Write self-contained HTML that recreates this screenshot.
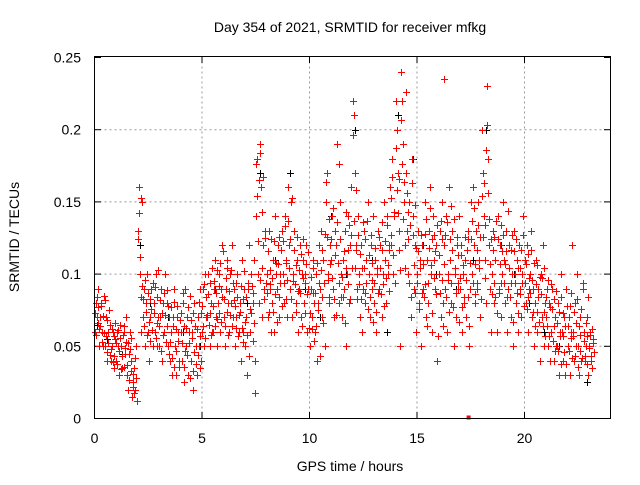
<!DOCTYPE html>
<html><head><meta charset="utf-8"><style>
body{margin:0;background:#fff;}
svg text{font-family:"Liberation Sans",sans-serif;font-size:14px;fill:#000;}
</style></head><body>
<svg id="chart" width="640" height="480" xmlns="http://www.w3.org/2000/svg">
<rect width="640" height="480" fill="#fff"/>
<text x="350" y="32" text-anchor="middle">Day 354 of 2021, SRMTID for receiver mfkg</text>
<text x="350" y="471" text-anchor="middle">GPS time / hours</text>
<text transform="translate(19,237) rotate(-90)" text-anchor="middle">SRMTID / TECUs</text>
<g id="grid"></g><g id="ticks"></g><g id="marks"></g>
<rect x="94.5" y="56.5" width="516" height="362" fill="none" stroke="#000" stroke-width="1"/>
</svg>
<script>
const xTicks=[0,5,10,15,20];
const yTicks=[0,0.05,0.1,0.15,0.2,0.25];
const yTickLabels=["0","0.05","0.1","0.15","0.2","0.25"];
const binTimes=[0,0.25,0.5,0.75,1,1.25,1.5,1.75,2,2.25,2.5,2.75,3,3.25,3.5,3.75,4,4.25,4.5,4.75,5,5.25,5.5,5.75,6,6.25,6.5,6.75,7,7.25,7.5,7.75,8,8.25,8.5,8.75,9,9.25,9.5,9.75,10,10.25,10.5,10.75,11,11.25,11.5,11.75,12,12.25,12.5,12.75,13,13.25,13.5,13.75,14,14.25,14.5,14.75,15,15.25,15.5,15.75,16,16.25,16.5,16.75,17,17.25,17.5,17.75,18,18.25,18.5,18.75,19,19.25,19.5,19.75,20,20.25,20.5,20.75,21,21.25,21.5,21.75,22,22.25,22.5,22.75,23];
const redValues=[
[.06,.08,.07,.09,.05],[.07,.08,.06,.05,.085],[.05,.07,.04,.06,.065],[.04,.05,.06,.035,.055],[.04,.06,.05,.03,.065],
[.05,.035,.06,.045,.07],[.03,.02,.045,.06,.04],[.015,.025,.035,.02,.05],[.13,.16,.1,.06,.15],[.07,.09,.05,.08,.1],
[.06,.04,.07,.09,.05],[.08,.06,.1,.05,.07],[.05,.07,.09,.04,.08],[.06,.1,.08,.05,.07],[.04,.06,.03,.07,.09],
[.05,.03,.07,.06,.04],[.06,.04,.08,.025,.09],[.05,.07,.03,.06,.085],[.04,.06,.02,.08,.05],[.03,.07,.05,.09,.04],
[.06,.09,.05,.1,.07],[.07,.1,.05,.08,.06],[.06,.09,.11,.07,.05],[.08,.1,.06,.09,.12],[.07,.05,.09,.11,.08],
[.06,.1,.08,.12,.07],[.09,.05,.07,.1,.06],[.08,.04,.11,.06,.09],[.05,.07,.03,.09,.12],[.06,.1,.08,.11,.04],
[.14,.18,.1,.08,.19],[.16,.07,.12,.09,.13],[.1,.07,.13,.09,.06],[.08,.11,.06,.14,.1],[.09,.12,.07,.1,.13],
[.1,.08,.14,.11,.07],[.16,.12,.09,.15,.07],[.1,.13,.08,.11,.06],[.09,.12,.07,.1,.11],[.08,.1,.12,.06,.09],
[.05,.09,.07,.11,.08],[.06,.1,.04,.08,.12],[.09,.13,.07,.11,.05],[.15,.17,.1,.08,.12],[.11,.14,.09,.07,.13],
[.12,.19,.08,.15,.1],[.07,.11,.09,.13,.05],[.1,.14,.08,.12,.16],[.22,.21,.17,.12,.09],[.14,.1,.07,.12,.06],
[.09,.13,.08,.11,.15],[.1,.07,.12,.09,.14],[.08,.11,.06,.1,.13],[.09,.12,.07,.1,.15],[.11,.08,.14,.1,.12],
[.16,.12,.18,.1,.14],[.22,.2,.17,.13,.05],[.24,.22,.19,.15,.12],[.17,.13,.1,.15,.07],[.18,.14,.09,.12,.06],
[.1,.13,.08,.11,.05],[.12,.09,.15,.07,.11],[.08,.13,.16,.1,.06],[.14,.11,.09,.12,.04],[.1,.13,.07,.15,.08],
[.12,.09,.14,.06,.1],[.16,.11,.08,.13,.05],[.1,.07,.12,.09,.14],[.09,.12,.06,.1,.08],[.11,.07,.13,.05,.09],
[.15,.1,.16,.12,.08],[.13,.09,.15,.11,.07],[.2,.17,.14,.11,.08],[.23,.18,.12,.09,.06],[.1,.13,.08,.11,.06],
[.14,.09,.12,.07,.1],[.15,.11,.08,.13,.06],[.09,.12,.07,.1,.05],[.13,.1,.08,.11,.06],[.12,.09,.07,.1,.14],
[.11,.08,.12,.06,.09],[.1,.13,.07,.09,.05],[.08,.11,.06,.09,.04],[.1,.07,.12,.05,.08],[.07,.09,.05,.08,.04],
[.06,.09,.04,.07,.05],[.05,.08,.03,.06,.1],[.06,.04,.07,.03,.09],[.05,.07,.03,.06,.12],[.06,.04,.08,.05,.1],
[.05,.03,.07,.04,.09],[.06,.04,.05,.07,.03],[.05,.06,.04,.035,.055]];
const redValues2=[
[.073,.058,.084,.066,.077,.062],[.064,.078,.053,.071,.059,.082],[.057,.046,.068,.052,.075,.044],[.048,.062,.039,.057,.043,.066],[.052,.038,.061,.047,.056,.034],
[.043,.058,.036,.064,.049,.053],[.037,.052,.027,.048,.033,.056],[.022,.031,.018,.042,.028,.012],[.124,.142,.112,.084,.153,.092],[.083,.064,.096,.074,.058,.087],
[.067,.083,.054,.076,.061,.094],[.073,.091,.056,.084,.066,.103],[.064,.082,.047,.073,.058,.087],[.072,.053,.089,.064,.078,.045],[.053,.077,.042,.064,.081,.036],
[.062,.047,.078,.054,.036,.068],[.073,.052,.087,.036,.064,.047],[.063,.044,.077,.052,.028,.068],[.056,.033,.073,.046,.064,.038],[.062,.044,.081,.035,.057,.073],
[.078,.064,.093,.056,.084,.072],[.086,.065,.094,.073,.058,.104],[.078,.095,.064,.087,.103,.069],[.092,.073,.108,.067,.084,.116],[.083,.064,.097,.074,.104,.058],
[.088,.072,.103,.064,.094,.082],[.078,.063,.094,.084,.057,.072],[.074,.092,.063,.083,.053,.102],[.067,.084,.058,.094,.043,.076],[.073,.092,.054,.087,.066,.018],
[.176,.154,.123,.165,.096,.184],[.143,.104,.167,.083,.125,.094],[.087,.116,.074,.103,.093,.124],[.097,.074,.123,.086,.108,.067],[.107,.084,.126,.094,.117,.078],
[.123,.094,.133,.083,.108,.096],[.137,.104,.124,.083,.153,.095],[.117,.093,.106,.074,.126,.088],[.103,.087,.114,.064,.097,.124],[.094,.073,.107,.086,.115,.063],
[.073,.098,.062,.087,.104,.054],[.087,.064,.108,.075,.094,.043],[.103,.084,.117,.066,.094,.128],[.164,.126,.096,.138,.084,.107],[.124,.097,.146,.083,.113,.072],
[.136,.108,.176,.094,.124,.084],[.098,.084,.116,.066,.104,.143],[.117,.093,.134,.083,.127,.104],[.196,.137,.104,.158,.117,.083],[.127,.093,.114,.083,.104,.136],
[.104,.087,.124,.094,.137,.076],[.113,.084,.127,.096,.108,.067],[.094,.118,.074,.104,.087,.126],[.104,.086,.117,.136,.093,.078],[.123,.097,.134,.106,.117,.088],
[.153,.127,.167,.113,.143,.094],[.187,.158,.142,.117,.166,.103],[.207,.176,.138,.164,.104,.226],[.156,.124,.143,.094,.134,.084],[.163,.127,.106,.148,.087,.118],
[.094,.116,.076,.104,.127,.087],[.107,.084,.128,.093,.138,.064],[.094,.118,.146,.106,.073,.124],[.127,.097,.116,.086,.134,.057],[.113,.087,.137,.096,.124,.064],
[.107,.127,.084,.136,.096,.074],[.124,.147,.094,.117,.077,.138],[.104,.087,.126,.094,.113,.067],[.097,.113,.077,.106,.084,.126],[.096,.117,.084,.124,.064,.108],
[.124,.137,.094,.146,.107,.086],[.117,.094,.134,.104,.126,.083],[.154,.126,.163,.134,.097,.186],[.203,.156,.138,.107,.124,.086],[.117,.094,.126,.084,.137,.073],
[.124,.087,.107,.134,.094,.116],[.127,.094,.107,.116,.084,.144],[.104,.084,.117,.094,.127,.067],[.116,.094,.124,.087,.104,.073],[.104,.086,.117,.094,.127,.078],
[.094,.107,.076,.114,.084,.097],[.087,.117,.096,.074,.108,.064],[.093,.074,.106,.084,.067,.098],[.086,.097,.064,.104,.074,.057],[.084,.064,.096,.057,.077,.093],
[.076,.054,.083,.064,.047,.088],[.066,.047,.074,.057,.084,.038],[.057,.073,.046,.064,.038,.078],[.064,.047,.078,.056,.087,.042],[.057,.074,.043,.066,.083,.036],
[.064,.047,.058,.076,.042,.094],[.054,.043,.066,.057,.038,.084],[.049,.058,.043,.062,.052,.046]];
const blackTimes=[0.1,0.6,1.3,2.1,2.6,3.4,4.1,4.9,5.6,6.3,7.1,7.7,8.4,9.1,9.8,10.5,11.0,11.7,12.1,12.9,13.6,14.1,14.8,15.3,15.9,16.8,17.6,18.2,18.9,19.5,20.2,20.9,21.6,22.3,22.9];
const blackValues=[.065,.055,.045,.12,.08,.07,.06,.05,.09,.1,.08,.17,.11,.17,.09,.07,.14,.1,.2,.11,.06,.21,.18,.12,.1,.09,.11,.2,.12,.1,.08,.06,.05,.04,.025];
const isolatedTimes=[16.25];const isolatedValues=[0.235];
const specialTimes=[17.4];const specialValues=[0];
const X=t=>94.5+t*21.5, Y=v=>418.5-v*1444;
const NS="http://www.w3.org/2000/svg";
const grid=document.getElementById('grid'),ticks=document.getElementById('ticks'),marks=document.getElementById('marks');
function mk(tag,attrs,parent){const e=document.createElementNS(NS,tag);for(const k in attrs)e.setAttribute(k,attrs[k]);parent.appendChild(e);return e;}
xTicks.forEach(t=>{const x=X(t);
 if(t>0){const g=mk('line',{x1:x,y1:56.5,x2:x,y2:418.5,stroke:'#999','stroke-dasharray':'2,3'},grid);
 
 }
 mk('line',{x1:x,y1:418.5,x2:x,y2:412,stroke:'#000'},ticks);mk('line',{x1:x,y1:56.5,x2:x,y2:63,stroke:'#000'},ticks);
 const l=mk('text',{x:x,y:443,'text-anchor':'middle'},ticks);l.textContent=t;
 
 });
yTicks.forEach((v,i)=>{const y=Y(v);
 if(v>0&&v<0.25){const g=mk('line',{x1:94.5,y1:y,x2:610.5,y2:y,stroke:'#999','stroke-dasharray':'2,3'},grid);
 
 }
 mk('line',{x1:94.5,y1:y,x2:101,y2:y,stroke:'#000'},ticks);mk('line',{x1:610.5,y1:y,x2:604,y2:y,stroke:'#000'},ticks);
 const l=mk('text',{x:81,y:y+5,'text-anchor':'end'},ticks);l.textContent=yTickLabels[i];
 
 });
function plus(t,v,color,name){const x=Math.round(X(t))+0.5,y=Math.round(Y(v))+0.5;
 const p=mk('path',{d:`M${x-3.5},${y}H${x+3.5}M${x},${y-3.5}V${y+3.5}`,stroke:color,'stroke-width':1,fill:'none'},marks);
 
 }
blackTimes.forEach((t,i)=>plus(t,blackValues[i],'#000','black-point'));
binTimes.forEach((t,i)=>redValues[i].forEach((v,j)=>plus(t+j*0.05,v,'#f00','red-point')));
binTimes.forEach((t,i)=>redValues2[i].forEach((v,j)=>plus(t+0.02+j*0.04,v,'#f00','red-point')));
isolatedTimes.forEach((t,i)=>plus(t,isolatedValues[i],'#f00','red-point'));
specialTimes.forEach((t,i)=>{const r=mk('rect',{x:X(t)-2,y:Y(specialValues[i])-3,width:4,height:4,fill:'#f00'},marks);
 
 });
</script>
</body></html>
